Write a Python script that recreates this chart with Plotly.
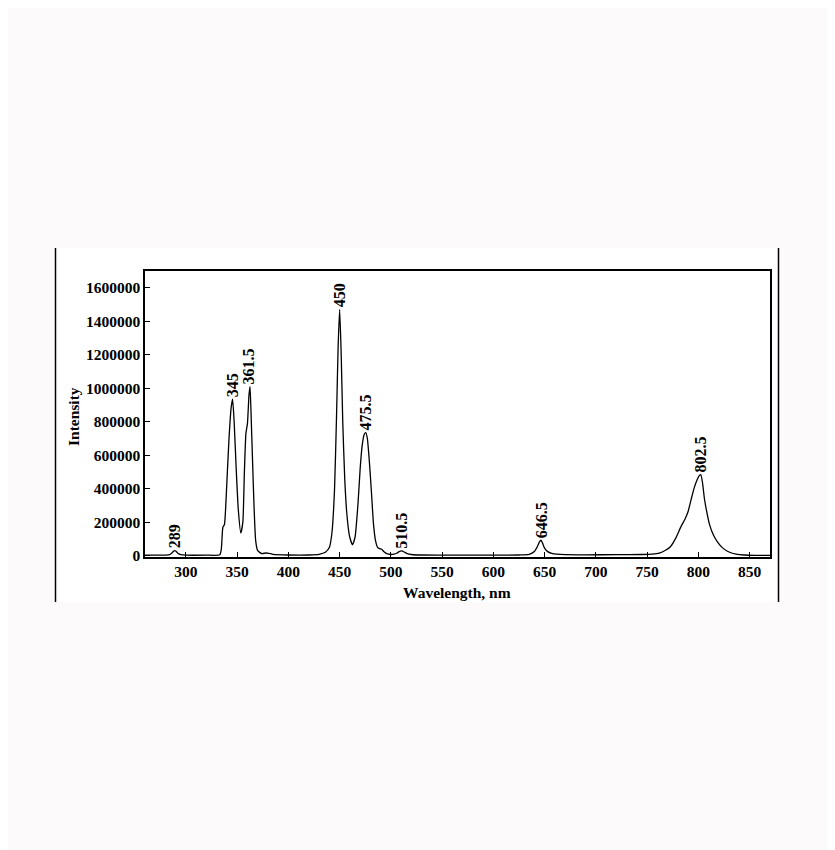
import plotly.graph_objects as go

# --- Spectrum ---
wavelength = [260, 280, 284, 286, 288, 289, 290, 292, 295, 300, 320, 333, 334.5, 336, 337.5,
              338.5, 340, 342, 344, 345.5, 347, 349, 351, 353.5, 355.5, 357, 358.5, 360,
              361.5, 362.5, 363.5, 365, 366.5, 368, 370, 374, 378, 381, 385, 400, 420, 430,
              436, 440, 442.5, 445, 447, 448.5, 450, 451.5, 453, 455, 457, 459.5, 462.5, 465,
              468, 470, 472, 474, 475.5, 477, 479, 481, 483, 485, 487, 489, 491, 493, 496,
              500, 503, 506, 508, 510.5, 513, 516, 520, 530, 560, 600, 625, 635, 640, 643,
              645, 646.5, 648, 650, 653, 657, 662, 670, 690, 720, 745, 755, 762, 768, 773,
              778, 783, 787, 790, 793, 796, 799, 801, 802.5, 804, 806, 808, 811, 815, 819,
              824, 830, 837, 845, 855, 870]
intensity = [3000, 3000, 6000, 15000, 27000, 30000, 28000, 15000, 6000, 3000, 3000, 5000, 40000,
             170000, 185000, 260000, 450000, 700000, 880000, 935000, 800000, 520000, 280000,
             135000, 200000, 500000, 730000, 790000, 960000, 1010000, 850000, 560000, 280000,
             90000, 30000, 12000, 16000, 14000, 8000, 4000, 4000, 8000, 20000, 50000, 140000,
             400000, 850000, 1250000, 1470000, 1200000, 800000, 450000, 250000, 120000, 65000,
             110000, 320000, 520000, 660000, 725000, 735000, 700000, 560000, 380000, 190000,
             90000, 50000, 42000, 38000, 25000, 12000, 7000, 9000, 16000, 24000, 28000, 22000,
             12000, 7000, 4000, 3000, 3000, 4000, 8000, 25000, 55000, 82000, 92000, 75000,
             45000, 24000, 14000, 9000, 6000, 5000, 6000, 7000, 9000, 15000, 32000, 55000,
             105000, 172000, 218000, 262000, 335000, 405000, 455000, 478000, 483000, 440000,
             340000, 270000, 185000, 120000, 80000, 45000, 22000, 9000, 4000, 2000, 2000]

# peak labels
peak_wl = [289, 345, 361.5, 450, 475.5, 510.5, 646.5, 802.5]
peak_height = [30000, 935000, 1010000, 1470000, 735000, 28000, 92000, 483000]
peak_text = ["289", "345", "361.5", "450", "475.5", "510.5", "646.5", "802.5"]

x_ticks = list(range(300, 851, 50))
y_ticks = list(range(0, 1600001, 200000))

FONT = "Liberation Serif, Times New Roman, serif"

# the page puts the figure 8px in from the top-left corner
OFF = 8
L, R, T, B = 145 - OFF, 770 - OFF, 271 - OFF, 557 - OFF
W, H = 835 - OFF, 850 - OFF
PW, PH = R - L, B - T


def px_x(px):
    return (px - OFF - L) / PW


def px_y(py):
    return (B - (py - OFF)) / PH


fig = go.Figure()
fig.add_trace(go.Scatter(
    x=wavelength, y=intensity, mode="lines",
    line=dict(color="black", width=1.3, shape="spline", smoothing=0.5),
    hoverinfo="x+y", showlegend=False,
))

# peak annotations, rotated
for wl, h, t in zip(peak_wl, peak_height, peak_text):
    fig.add_annotation(
        x=wl, y=h, text=t, showarrow=False, textangle=-90,
        xanchor="center", yanchor="bottom", yshift=0,
        font=dict(family=FONT, size=16, color="black", weight="bold"),
    )

# axis titles
fig.add_annotation(
    x=px_x(457), y=px_y(592), xref="paper", yref="paper",
    text="Wavelength, nm", showarrow=False, xanchor="center", yanchor="middle",
    font=dict(family=FONT, size=15.5, color="black", weight="bold"),
)
fig.add_annotation(
    x=px_x(73), y=px_y(417), xref="paper", yref="paper",
    text="Intensity", showarrow=False, textangle=-90, xanchor="center", yanchor="middle",
    font=dict(family=FONT, size=15.5, color="black", weight="bold"),
)

# white band with side rules, as in the scanned figure
fig.add_shape(type="rect", xref="paper", yref="paper", layer="below",
              x0=px_x(55), x1=px_x(778), y0=px_y(602), y1=px_y(248),
              fillcolor="white", line=dict(width=0))
for px in (55.5, 778.5):
    fig.add_shape(type="line", xref="paper", yref="paper",
                  x0=px_x(px), x1=px_x(px), y0=px_y(602), y1=px_y(248),
                  line=dict(color="black", width=1.5))

fig.update_layout(
    width=W, height=H,
    margin=dict(l=L, r=W - R, t=T, b=H - B),
    paper_bgcolor="#fcfafb", plot_bgcolor="white",
    font=dict(family=FONT, size=15, color="black"),
)
fig.update_xaxes(
    range=[260, 870], tickvals=x_ticks, ticks="inside", ticklen=5, tickwidth=1.2,
    tickcolor="black", showline=True, linecolor="black", linewidth=1.5, mirror=True,
    showgrid=False, zeroline=False,
    tickfont=dict(family=FONT, size=15.5, color="black", weight="bold"),
)
fig.update_yaxes(
    range=[-8000, 1700000], tickvals=y_ticks, tickformat="d", ticks="inside", ticklen=5,
    tickwidth=1.2, tickcolor="black", showline=True, linecolor="black", linewidth=1.5,
    mirror=True, showgrid=False, zeroline=False,
    tickfont=dict(family=FONT, size=15.5, color="black", weight="bold"),
)

fig.write_html("out.html")
